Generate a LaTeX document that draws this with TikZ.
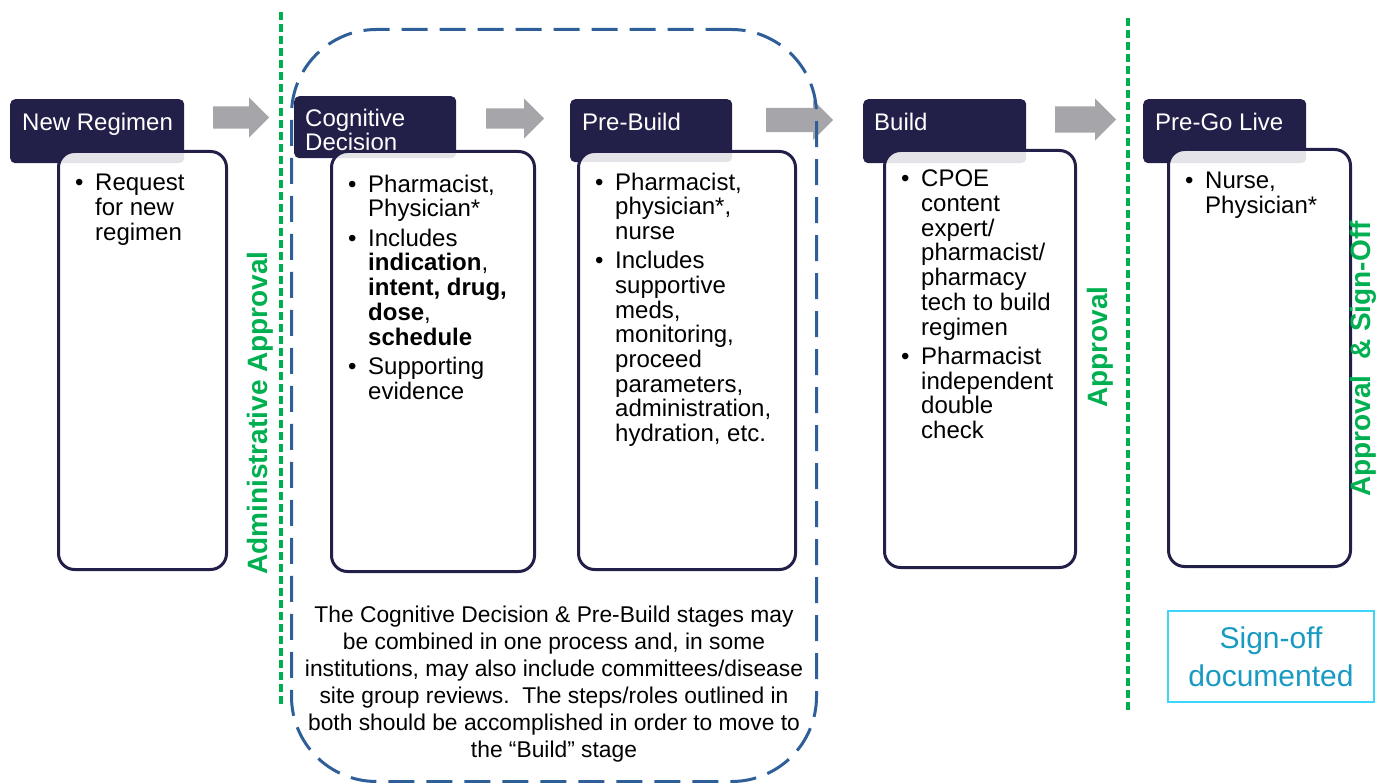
\documentclass[tikz,border=0pt]{standalone}
\usepackage{fontspec}
\setmainfont{Liberation Sans}
\usetikzlibrary{shapes.arrows}
\definecolor{navy}{RGB}{34,32,72}
\definecolor{agreen}{RGB}{0,176,80}
\definecolor{dblue}{RGB}{47,95,152}
\definecolor{agray}{RGB}{166,166,170}
\definecolor{scyan}{RGB}{60,214,250}
\definecolor{steal}{RGB}{24,154,194}
\newcommand{\bodyfs}{\fontsize{24}{24.5}\selectfont}
\newcommand{\bul}{\textbullet}
\begin{document}
\begin{tikzpicture}[x=1pt,y=-1pt,
  hdr/.style={fill=navy, rounded corners=5pt, anchor=north west, inner sep=0pt, draw=none},
  hdrtxt/.style={text=white, font=\bodyfs, anchor=base west, inner sep=0pt, align=left},
  wbox/.style={draw=navy, line width=3pt, fill=white, fill opacity=0.88, draw opacity=1, rounded corners=16pt, anchor=north west, inner sep=0pt},
  btxt/.style={anchor=north west, inner sep=0pt, font=\bodyfs, text=black},
  garrow/.style={single arrow, fill=agray, draw=none, inner xsep=0pt, anchor=tail},
  gline/.style={draw=agreen, line width=3.8pt, dash pattern=on 8pt off 4pt},
  gtxt/.style={text=agreen, font=\fontsize{28}{30}\selectfont\bfseries, rotate=90, inner sep=0pt, anchor=base},
]
\useasboundingbox (0,0) rectangle (1387,783);

% headers
\node[hdr, minimum width=174pt, minimum height=64pt] (h1) at (10,99) {};
\node[hdr, minimum width=162pt, minimum height=62pt] (h2) at (294,96) {};
\node[hdr, minimum width=162pt, minimum height=63pt] (h3) at (570,99) {};
\node[hdr, minimum width=163pt, minimum height=64pt] (h4) at (863,99) {};
\node[hdr, minimum width=163pt, minimum height=64pt] (h5) at (1143,99) {};
\node[hdrtxt] (h1t) at (22,130.6) {New Regimen};
\node[text=white, font=\bodyfs, anchor=west, inner sep=0pt, align=left] (h2t) at (305,130) {Cognitive\\Decision};
\node[hdrtxt] (h3t) at (582,130.6) {Pre-Build};
\node[hdrtxt] (h4t) at (874,130.6) {Build};
\node[hdrtxt] (h5t) at (1155,130.6) {Pre-Go Live};

% white boxes
\node[wbox, minimum width=168pt, minimum height=418pt] (b1) at (57,150) {};
\node[wbox, minimum width=203pt, minimum height=420pt] (b2) at (330,150) {};
\node[wbox, minimum width=217pt, minimum height=418pt] (b3) at (577,150) {};
\node[wbox, minimum width=191pt, minimum height=417pt] (b4) at (883,149) {};
\node[wbox, minimum width=182pt, minimum height=417pt] (b5) at (1167,148) {};

% body texts
\node[btxt] (t1) at (75,173.5) {\bodyfs\begin{tabular}{@{}p{20pt}@{}l@{}}
\bul & Request\\ & for new\\ & regimen\end{tabular}};
\node[btxt] (t2) at (348,174.5) {\bodyfs\begin{tabular}{@{}p{20pt}@{}l@{}}
\bul & Pharmacist,\\ & Physician*\\[4.5pt]
\bul & Includes\\ & \textbf{indication},\\ & \textbf{intent, drug,}\\ & \textbf{dose},\\ & \textbf{schedule}\\[4.5pt]
\bul & Supporting\\ & evidence\end{tabular}};
\node[btxt] (t3) at (595,172.5) {\bodyfs\begin{tabular}{@{}p{20pt}@{}l@{}}
\bul & Pharmacist,\\ & physician*,\\ & nurse\\[4.5pt]
\bul & Includes\\ & supportive\\ & meds,\\ & monitoring,\\ & proceed\\ & parameters,\\ & administration,\\ & hydration, etc.\end{tabular}};
\node[btxt] (t4) at (901,169.5) {\bodyfs\begin{tabular}{@{}p{20pt}@{}l@{}}
\bul & CPOE\\ & content\\ & expert/\\ & pharmacist/\\ & pharmacy\\ & tech to build\\ & regimen\\[4.5pt]
\bul & Pharmacist\\ & independent\\ & double\\ & check\end{tabular}};
\node[btxt] (t5) at (1185,171.5) {\bodyfs\begin{tabular}{@{}p{20pt}@{}l@{}}
\bul & Nurse,\\ & Physician*\end{tabular}};

% grey arrows
\node[garrow, inner ysep=11pt, single arrow head extend=9pt, minimum height=56pt] (a1) at (213,117.5) {};
\node[garrow, inner ysep=10pt, single arrow head extend=10pt, minimum height=58pt] (a2) at (486,118.5) {};
\node[garrow, inner ysep=12pt, single arrow head extend=8pt, minimum height=67pt] (a3) at (766,120) {};
\node[garrow, inner ysep=13pt, single arrow head extend=8pt, minimum height=61pt] (a4) at (1055,119.5) {};

% blue dashed group
\node[draw=dblue, line width=3pt, dash pattern=on 26pt off 12pt, rounded corners=85pt, minimum width=525pt, minimum height=752pt, anchor=north west, inner sep=0pt] (grp) at (290,28) {};

% green dashed lines
\coordinate (g1t) at (281,12);
\coordinate (g1b) at (281,705);
\coordinate (g2t) at (1128,18);
\coordinate (g2b) at (1128,711);
\draw[gline] (g1t) -- (g1b);
\draw[gline] (g2t) -- (g2b);

% green rotated labels
\node[gtxt] (ap1) at (267,413) {Administrative Approval};
\node[gtxt] (ap2) at (1107,347) {Approval};
\node[gtxt] (ap3) at (1370,359) {Approval\ \ \& Sign-Off};

% note
\node[font=\fontsize{22.8}{27}\selectfont, align=center, inner sep=0pt] (note) at (554,684) {The Cognitive Decision \& Pre-Build stages may\\
be combined in one process and, in some\\
institutions, may also include committees/disease\\
site group reviews.\ \ The steps/roles outlined in\\
both should be accomplished in order to move to\\
the “Build” stage};

% sign-off box
\node[draw=scyan, line width=2pt, minimum width=206pt, minimum height=91pt, anchor=north west, inner sep=0pt, text=steal, font=\fontsize{30}{38}\selectfont, align=center] (so) at (1167,610) {Sign-off\\documented};
\end{tikzpicture}
\end{document}
